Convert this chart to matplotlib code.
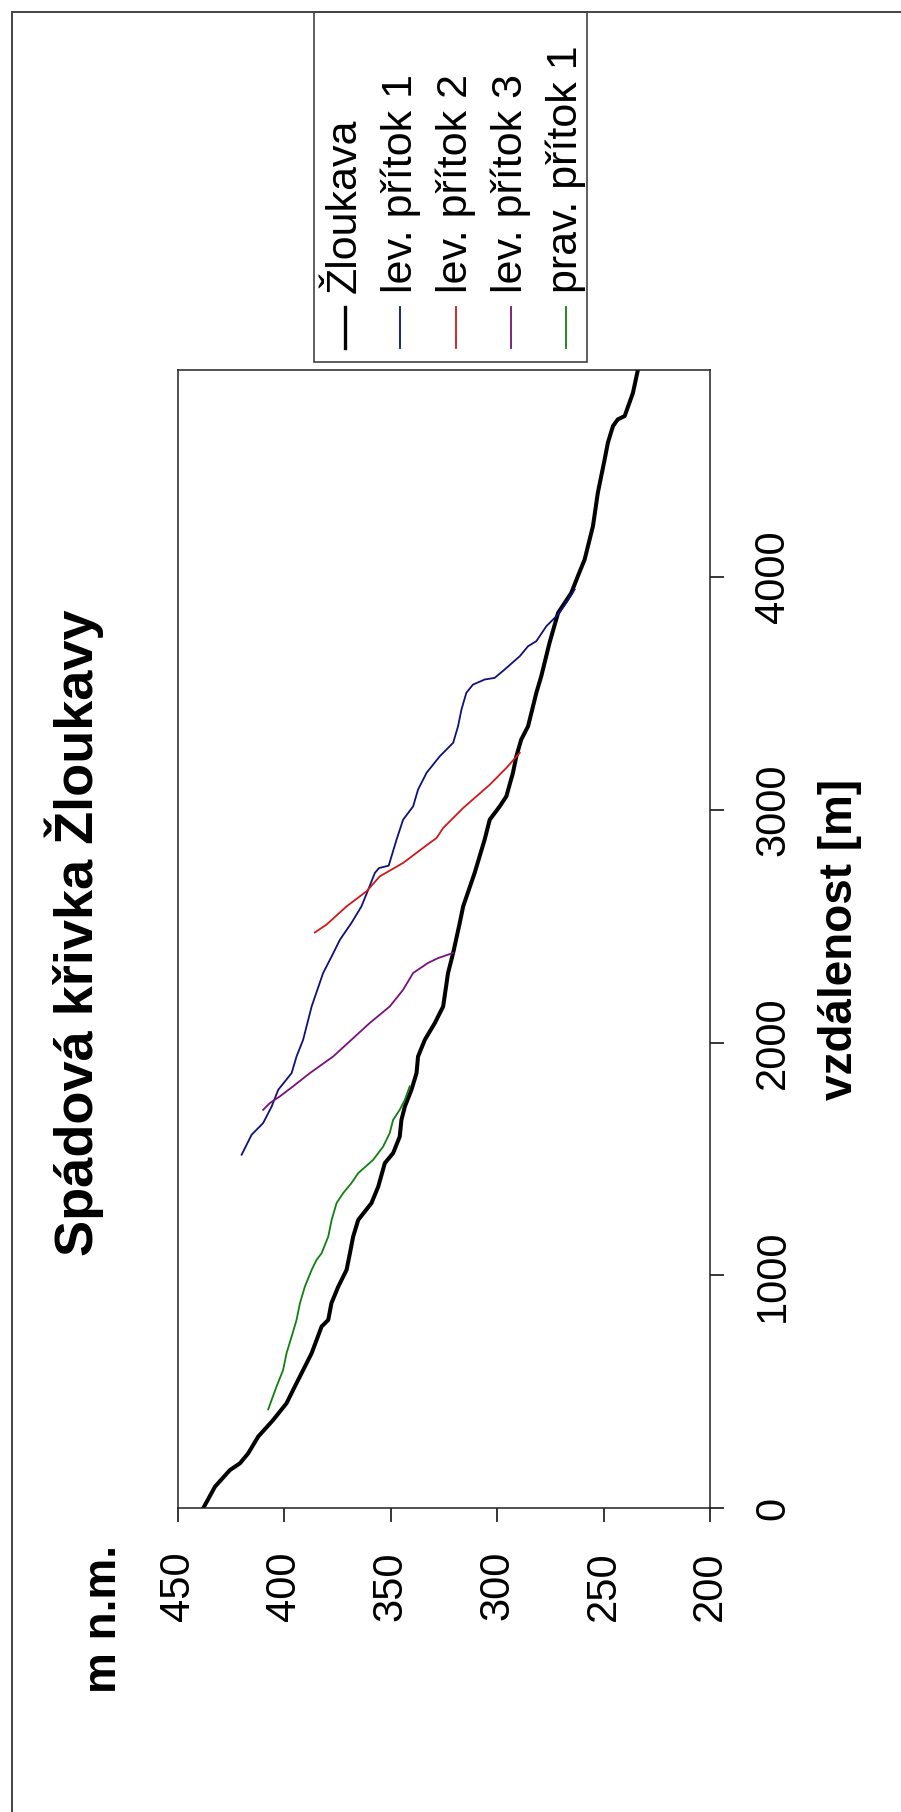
import matplotlib
matplotlib.use('Agg')
import matplotlib.pyplot as plt
from matplotlib.lines import Line2D
from matplotlib.patches import Rectangle

plt.rcParams['font.family'] = ['Liberation Sans', 'DejaVu Sans']

# --- data (vzdálenost [m], nadmořská výška [m n.m.]) ---
names = ['Žloukava', 'lev. přítok 1', 'lev. přítok 2', 'lev. přítok 3', 'prav. přítok 1']
colors = ['black', '#10107a', '#d01818', '#7a107a', '#108010']
widths = [2.9, 1.3, 1.3, 1.3, 1.3]

zl_dist = [0, 92, 163, 192, 235, 307, 378, 450, 522, 607, 665, 780, 808, 880, 951,
           1023, 1095, 1166, 1238, 1310, 1381, 1482, 1525, 1596, 1668, 1725, 1797,
           1869, 1940, 2012, 2084, 2155, 2299, 2385, 2514, 2585, 2729, 2872, 2958,
           3015, 3058, 3159, 3230, 3302, 3359, 3503, 3574, 3718, 3846, 3932, 4004,
           4076, 4219, 4363, 4506, 4577, 4649, 4678, 4692, 4792, 4890]
zl_elev = [438.1, 432.6, 425.6, 420.9, 417.0, 412.3, 405.3, 399.0, 395.1, 390.4,
           387.2, 382.5, 379.4, 377.9, 374.7, 370.8, 369.2, 367.7, 365.3, 359.1,
           355.9, 352.8, 348.9, 345.8, 345.0, 343.4, 340.3, 337.9, 337.2, 334.0,
           329.3, 325.4, 323.1, 320.7, 317.6, 316.0, 310.6, 305.9, 303.5, 298.8,
           295.7, 292.6, 291.0, 288.7, 285.5, 281.6, 279.3, 275.4, 271.4, 265.2,
           262.1, 258.9, 255.0, 252.7, 249.5, 248.0, 245.6, 243.3, 240.1, 236.2, 233.9]

lp1_dist = [1518, 1604, 1654, 1725, 1797, 1869, 1940, 2012, 2155, 2299, 2370, 2442,
            2514, 2585, 2657, 2729, 2750, 2760, 2872, 2958, 3015, 3087, 3159, 3230,
            3288, 3359, 3431, 3503, 3538, 3560, 3567, 3603, 3660, 3703, 3725, 3789,
            3832, 3890, 3947]
lp1_elev = [420.1, 415.4, 410.0, 406.0, 402.9, 396.6, 394.3, 391.2, 387.2, 381.8,
            377.8, 373.9, 368.5, 363.8, 360.6, 357.5, 355.5, 351.0, 347.3, 344.2,
            339.5, 337.2, 333.2, 327.0, 320.7, 318.4, 316.8, 314.5, 311.4, 305.9,
            301.2, 296.5, 289.4, 285.5, 281.6, 276.9, 272.2, 267.5, 263.6]

lp2_dist = [2473, 2507, 2585, 2650, 2714, 2772, 2858, 2879, 2922, 3008, 3108, 3180, 3245]
lp2_elev = [385.7, 380.2, 370.8, 361.4, 355.2, 344.2, 331.7, 328.5, 325.4, 316.0,
            303.5, 295.7, 289.4]

lp3_dist = [1711, 1740, 1769, 1812, 1869, 1940, 2012, 2084, 2155, 2227, 2299, 2342,
            2363, 2385]
lp3_elev = [410.0, 406.8, 402.1, 395.9, 388.0, 377.1, 368.5, 359.9, 350.5, 344.2,
            339.5, 332.5, 327.8, 320.7]

pp1_dist = [424, 522, 593, 665, 737, 808, 880, 951, 1023, 1066, 1095, 1166, 1238,
            1310, 1353, 1396, 1439, 1496, 1553, 1611, 1668, 1711, 1754, 1812]
pp1_elev = [407.6, 403.7, 400.6, 399.0, 396.6, 394.3, 392.7, 390.4, 387.2, 384.9,
            382.5, 379.4, 377.8, 375.5, 372.4, 368.5, 365.3, 358.3, 353.6, 350.5,
            348.9, 345.8, 343.4, 341.1]

dists = [zl_dist, lp1_dist, lp2_dist, lp3_dist, pp1_dist]
elevs = [zl_elev, lp1_elev, lp2_elev, lp3_elev, pp1_elev]

elev_ticks = [450, 400, 350, 300, 250, 200]
dist_ticks = [0, 1000, 2000, 3000, 4000]

W, H = 901, 1812
fig = plt.figure(figsize=(W / 100, H / 100), dpi=100)

# chart is drawn turned by 90 degrees: distance runs upwards, elevation leftwards
ax = fig.add_axes([178 / W, (H - 1508) / H, (710 - 178) / W, (1508 - 370) / H])
for d, e, c, lw in zip(dists, elevs, colors, widths):
    ax.plot(e, d, color=c, lw=lw, solid_joinstyle='round')

ax.set_xlim(450, 200)
ax.set_ylim(0, 4890)
ax.set_xticks(elev_ticks)
ax.set_xticklabels([str(t) for t in elev_ticks])
ax.set_yticks(dist_ticks)
ax.set_yticklabels([str(t) for t in dist_ticks], rotation=90, va='center')
ax.yaxis.tick_right()
ax.yaxis.set_label_position('right')
ax.tick_params(axis='x', direction='out', length=10, width=1.1, pad=21,
               labelsize=30, labelrotation=90)
ax.tick_params(axis='y', direction='out', length=10, width=1.1, pad=21,
               labelsize=30)
for s in ax.spines.values():
    s.set_linewidth(1.1)
    s.set_color('#222222')
ax.set_ylabel('vzdálenost [m]', fontsize=33, fontweight='bold', labelpad=18)

# titles
fig.text(74 / W, (H - 1256) / H, 'Spádová křivka Žloukavy', rotation=90,
         ha='center', va='bottom', fontsize=39, fontweight='bold')
fig.text(104 / W, (H - 1693) / H, 'm n.m.', rotation=90,
         ha='center', va='bottom', fontsize=33, fontweight='bold')

# legend (turned as well)
fig.add_artist(Rectangle((314 / W, (H - 362) / H), (587 - 314) / W, (362 - 12) / H,
                         transform=fig.transFigure, fill=False, lw=1.1, ec='#333333'))
for i, (name, c) in enumerate(zip(names, colors)):
    x = (345 + i * 55.3) / W
    fig.add_artist(Line2D([x, x], [(H - 348) / H, (H - 307) / H],
                          transform=fig.transFigure, color=c,
                          lw=2.4 if i == 0 else 1.3))
    fig.text(x, (H - 293) / H, name, rotation=90, ha='center', va='bottom',
             fontsize=31)

# outer frame
fig.add_artist(Line2D([12 / W, 1], [(H - 12) / H, (H - 12) / H],
                      transform=fig.transFigure, color='#444444', lw=1.4))
fig.add_artist(Line2D([12 / W, 12 / W], [0, (H - 12) / H],
                      transform=fig.transFigure, color='#444444', lw=1.4))

fig.savefig('out.png', dpi=100)
